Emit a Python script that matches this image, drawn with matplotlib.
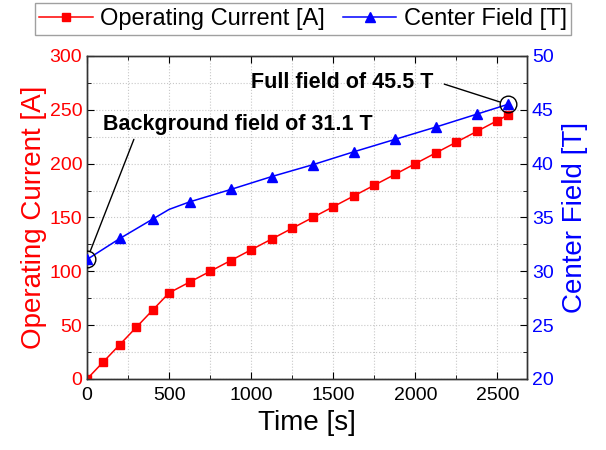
import numpy as np
import matplotlib.pyplot as plt
from matplotlib.ticker import MultipleLocator

plt.rcParams['font.family'] = ['Liberation Sans', 'DejaVu Sans']

# operating current ramp
time_i = [0, 100, 200, 300, 400, 500, 625, 750, 875, 1000, 1125, 1250, 1375,
          1500, 1625, 1750, 1875, 2000, 2125, 2250, 2375, 2500, 2562]
current = [0, 16, 32, 48, 64, 80, 90, 100, 110, 120, 130, 140, 150,
           160, 170, 180, 190, 200, 210, 220, 230, 240, 245]

# center field (point at 500 s has no marker)
time_b = [0, 200, 400, 500, 625, 875, 1125, 1375, 1625, 1875, 2125, 2375, 2562]
field = [31.1, 33.05, 34.85, 35.75, 36.45, 37.6, 38.8, 39.9, 41.1, 42.25,
         43.4, 44.6, 45.5]
field_marks = [0, 1, 2, 4, 5, 6, 7, 8, 9, 10, 11, 12]

fig = plt.figure(figsize=(6.06, 4.5), dpi=100)
ax = fig.add_axes([0.1436, 0.1578, 0.726, 0.7178])
ax2 = ax.twinx()

l1, = ax.plot(time_i, current, '-s', color='red', lw=1.1, ms=6,
              label='Operating Current [A]', zorder=3)
l2, = ax2.plot(time_b, field, '-^', color='blue', lw=1.1, ms=7.5,
               markevery=field_marks, label='Center Field [T]', zorder=3)

# circles on start/end field points
ax2.plot([time_b[0], time_b[-1]], [field[0], field[-1]], 'o', mfc='none',
         mec='black', ms=12, mew=1.0, zorder=4)

ax.set_xlim(0, 2680)
ax.set_ylim(0, 300)
ax2.set_ylim(20, 50)

ax.xaxis.set_major_locator(MultipleLocator(500))
ax.xaxis.set_minor_locator(MultipleLocator(250))
ax.yaxis.set_major_locator(MultipleLocator(50))
ax.yaxis.set_minor_locator(MultipleLocator(25))
ax2.yaxis.set_major_locator(MultipleLocator(5))
ax2.yaxis.set_minor_locator(MultipleLocator(2.5))

ax.grid(True, which='both', ls=':', color='#c8c8c8', lw=0.8)
ax.set_axisbelow(True)

ax.tick_params(axis='x', which='both', direction='in', top=True, labelsize=14, pad=6)
ax.tick_params(axis='x', which='major', length=5)
ax.tick_params(axis='x', which='minor', length=3)
ax.tick_params(axis='y', which='both', direction='in', labelsize=14, labelcolor='red')
ax.tick_params(axis='y', which='major', length=5)
ax.tick_params(axis='y', which='minor', length=3)
ax2.tick_params(axis='y', which='both', direction='in', labelsize=14, labelcolor='blue')
ax2.tick_params(axis='y', which='major', length=5)
ax2.tick_params(axis='y', which='minor', length=3)

for a in (ax, ax2):
    for s in a.spines.values():
        s.set_color('#333333')
        s.set_linewidth(1.0)

ax.set_xlabel('Time [s]', fontsize=20, labelpad=4)
ax.set_ylabel('Operating Current [A]', fontsize=20, color='red', labelpad=2)
ax2.set_ylabel('Center Field [T]', fontsize=20, color='blue', labelpad=6)

ax2.annotate('Background field of 31.1 T', xy=(time_b[0], field[0]),
             xytext=(98, 43.1), fontsize=15.5, fontweight='bold',
             arrowprops=dict(arrowstyle='-', color='black', lw=1.0,
                             relpos=(0.12, 0.0), shrinkA=1, shrinkB=6))
ax2.annotate('Full field of 45.5 T', xy=(time_b[-1], field[-1]),
             xytext=(1000, 47.0), fontsize=15.5, fontweight='bold',
             arrowprops=dict(arrowstyle='-', color='black', lw=1.0,
                             relpos=(1.0, 0.6), shrinkA=6, shrinkB=6))

leg = fig.legend(handles=[l1, l2], loc='upper center', ncol=2,
                 bbox_to_anchor=(0.5, 0.998), fontsize=17, frameon=True,
                 fancybox=False, edgecolor='#888888', handlelength=2.25,
                 borderpad=0.2, borderaxespad=0.1, columnspacing=0.8,
                 handletextpad=0.3)
leg.get_frame().set_linewidth(1.0)

fig.savefig('out.png', dpi=100)
